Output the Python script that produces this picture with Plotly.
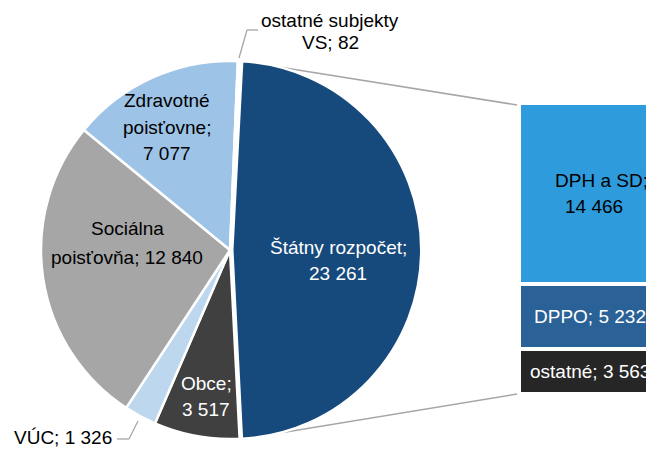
import plotly.graph_objects as go

W, H = 654, 450
OFF = 8  # page body margin in the browser

# ---- data ----
pie_labels = ["Štátny rozpočet", "Obce", "VÚC", "Sociálna poisťovňa", "Zdravotné poisťovne", "ostatné subjekty VS"]
pie_values = [23261, 3517, 1326, 12840, 7077, 82]
pie_colors = ["#174A7C", "#404040", "#BDD7EE", "#A6A6A6", "#9DC3E6", "#DEEBF7"]

bar_labels = ["ostatné", "DPPO", "DPH a SD"]          # bottom -> top
bar_values = [3563, 5232, 14466]
bar_colors = ["#262626", "#2A6196", "#2E9BDC"]
bar_text_colors = ["white", "white", "black"]


def fmt(v):
    return f"{v:,}".replace(",", " ")


def px(x, y):
    """reference-page pixel -> paper coords"""
    return (x - OFF) / W, 1 - (y - OFF) / H


fig = go.Figure()

# pie
cx, cy, r, pull = 230, 250, 189, 0.012
half = r * (1 + pull)
x0p, y1p = px(cx - half, cy - half)
x1p, y0p = px(cx + half, cy + half)
fig.add_trace(go.Pie(
    labels=pie_labels, values=pie_values, sort=False, direction="clockwise",
    rotation=3, pull=[pull, 0, 0, 0, 0, 0],
    marker=dict(colors=pie_colors, line=dict(color="white", width=2.5)),
    textinfo="none", hoverinfo="label+value", showlegend=False,
    domain=dict(x=[x0p, x1p], y=[y0p, y1p]),
))

# stacked bar
for lab, val, col in zip(bar_labels, bar_values, bar_colors):
    fig.add_trace(go.Bar(
        x=[0], y=[val], name=lab, width=1.0, showlegend=False,
        marker=dict(color=col, line=dict(color="white", width=4)),
        hoverinfo="name+y",
    ))

total_bar = sum(bar_values)
FONT = "Liberation Sans, Arial, sans-serif"
FS = 19

annotations = []


def block(lines, x, y, color, spacing=26):
    n = len(lines)
    for i, t in enumerate(lines):
        yy = y + (i - (n - 1) / 2) * spacing
        ax_, ay_ = px(x, yy)
        annotations.append(dict(
            x=ax_, y=ay_, xref="paper", yref="paper", showarrow=False,
            text=t, font=dict(family=FONT, size=FS, color=color),
            xanchor="center", yanchor="middle",
        ))


# pie labels: (centre x, centre y, colour, line template, spacing)
pie_label_pos = {
    "Štátny rozpočet": (338, 260, "white", ["{l};", "{v}"], 26),
    "Obce": (206, 396, "white", ["{l};", "{v}"], 26),
    "VÚC": (63, 437, "black", ["{l}; {v}"], 26),
    "Sociálna poisťovňa": (127, 243, "black", ["Sociálna", "poisťovňa; {v}"], 28),
    "Zdravotné poisťovne": (167, 127, "black", ["Zdravotné", "poisťovne;", "{v}"], 26.5),
    "ostatné subjekty VS": (330, 32, "black", ["ostatné subjekty", "VS; {v}"], 22),
}
for lab, val in zip(pie_labels, pie_values):
    x, y, c, tpl, sp = pie_label_pos[lab]
    block([t.format(l=lab, v=fmt(val)) for t in tpl], x, y, c, sp)

# bar labels (positioned through the bar axes)
cum = 0
bar_shift = {"ostatné": 0, "DPPO": 0, "DPH a SD": 11}
for lab, val, tc in zip(bar_labels, bar_values, bar_text_colors):
    mid = cum + val / 2
    cum += val
    lines = [f"{lab};", fmt(val)] if lab == "DPH a SD" else [f"{lab}; {fmt(val)}"]
    n = len(lines)
    for i, t in enumerate(lines):
        annotations.append(dict(
            x=0, y=mid, xref="x", yref="y", showarrow=False, text=t,
            xshift=bar_shift[lab] + (i * -7 if n > 1 else 0),
            yshift=-(i - (n - 1) / 2) * 26,
            font=dict(family=FONT, size=FS, color=tc),
            xanchor="center", yanchor="middle",
        ))

# connector and leader lines (decoration)
line_col = "#A6A6A6"
shapes = []


def seg(p0, p1, width=1.5):
    x0, y0 = px(*p0)
    x1, y1 = px(*p1)
    shapes.append(dict(type="line", xref="paper", yref="paper",
                       x0=x0, y0=y0, x1=x1, y1=y1, layer="below",
                       line=dict(color=line_col, width=width)))


seg((242, 61), (517, 105))
seg((243, 439), (517, 394))
seg((239, 58), (247, 30), 1.3)
seg((247, 30), (258, 30), 1.3)
seg((138, 421), (129, 439), 1.3)
seg((129, 439), (117, 439), 1.3)

bx0, _ = px(519, 0)
_, by0 = px(0, 394)
_, by1 = px(0, 103)
fig.update_layout(
    width=W, height=H, margin=dict(l=0, r=0, t=0, b=0),
    paper_bgcolor="white", plot_bgcolor="rgba(0,0,0,0)",
    barmode="stack", bargap=0,
    xaxis=dict(domain=[bx0, 1], range=[-0.5, 0.507], visible=False, fixedrange=True),
    yaxis=dict(domain=[by0, by1], range=[0, total_bar], visible=False, fixedrange=True),
    annotations=annotations, shapes=shapes,
    font=dict(family=FONT),
)

fig.write_html("out.html")
